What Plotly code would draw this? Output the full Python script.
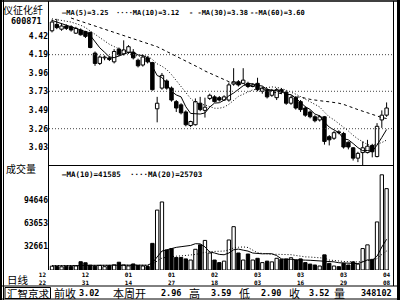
import plotly.graph_objects as go

# ---------------- data ----------------
OPEN = [4.49, 4.57, 4.51, 4.55, 4.54, 4.46, 4.50, 4.48, 4.47, 4.21,
        4.08, 4.15, 4.15, 4.10, 4.26, 4.20, 4.22, 4.22, 4.12, 4.06,
        4.15, 4.09, 3.51, 3.77, 3.86, 3.77, 3.60, 3.56, 3.47, 3.30,
        3.31, 3.58, 3.49, 3.64, 3.66, 3.65, 3.62, 3.62, 3.82, 3.85,
        3.83, 3.83, 3.79, 3.83, 3.73, 3.75, 3.68, 3.65, 3.75, 3.72,
        3.58, 3.65, 3.60, 3.52, 3.47, 3.41, 3.37, 3.41, 3.16, 3.14,
        3.22, 3.20, 3.09, 3.02, 2.89, 2.96, 2.96, 3.05, 2.91, 3.37, 3.43]
HIGH = [4.63, 4.64, 4.58, 4.57, 4.56, 4.54, 4.52, 4.49, 4.48, 4.23,
        4.18, 4.18, 4.17, 4.26, 4.28, 4.37, 4.31, 4.26, 4.14, 4.19,
        4.17, 4.10, 3.66, 3.96, 3.88, 3.79, 3.62, 3.58, 3.49, 3.36,
        3.64, 3.66, 3.65, 3.70, 3.68, 3.67, 3.68, 3.84, 4.02, 3.87,
        4.02, 3.85, 3.83, 3.90, 3.79, 3.77, 3.76, 3.77, 3.77, 3.74,
        3.67, 3.67, 3.62, 3.54, 3.49, 3.43, 3.43, 3.42, 3.18, 3.23,
        3.24, 3.22, 3.10, 3.03, 2.97, 3.10, 3.12, 3.07, 3.33, 3.49, 3.59]
LOW = [4.47, 4.51, 4.49, 4.50, 4.48, 4.45, 4.43, 4.40, 4.27, 4.05,
       4.06, 4.12, 4.11, 4.08, 4.17, 4.18, 4.20, 4.13, 4.03, 4.04,
       4.08, 3.74, 3.34, 3.75, 3.75, 3.60, 3.47, 3.44, 3.29, 3.28,
       3.30, 3.48, 3.40, 3.62, 3.59, 3.60, 3.61, 3.60, 3.80, 3.79,
       3.82, 3.77, 3.78, 3.73, 3.70, 3.64, 3.66, 3.62, 3.70, 3.56,
       3.56, 3.50, 3.47, 3.41, 3.39, 3.34, 3.35, 3.06, 3.05, 3.12,
       3.19, 3.01, 3.00, 2.86, 2.84, 2.80, 2.95, 2.90, 2.90, 3.27, 3.41]
CLOSE = [4.60, 4.53, 4.55, 4.52, 4.50, 4.52, 4.44, 4.42, 4.28, 4.08,
         4.16, 4.16, 4.13, 4.23, 4.19, 4.25, 4.29, 4.15, 4.05, 4.16,
         4.10, 3.75, 3.58, 3.93, 3.77, 3.62, 3.52, 3.46, 3.31, 3.35,
         3.60, 3.50, 3.53, 3.68, 3.60, 3.62, 3.66, 3.81, 3.85, 3.81,
         3.87, 3.79, 3.81, 3.75, 3.77, 3.66, 3.74, 3.75, 3.72, 3.58,
         3.65, 3.52, 3.50, 3.43, 3.41, 3.36, 3.41, 3.10, 3.12, 3.21,
         3.21, 3.03, 3.03, 2.89, 2.95, 3.02, 3.04, 2.97, 3.29, 3.43, 3.52]
VOLUME = [5200, 4800, 4300, 5000, 4600, 5600, 11200, 9800, 6500, 5300,
          6200, 4500, 5800, 7000, 10500, 6800, 5500, 8200, 6000, 5400,
          4700, 36000, 81000, 92000, 27000, 29000, 17000, 17000, 15000, 13500,
          28000, 34000, 40000, 23000, 13500, 10000, 12000, 40600, 58600, 23000,
          13500, 21600, 13500, 15800, 10000, 12000, 11000, 15800, 14400, 15000,
          16600, 13500, 15000, 10000, 8000, 6800, 5400, 20500, 9000, 5400,
          4500, 9000, 6800, 11000, 8000, 29000, 34000, 14400, 65000, 128700, 110000]

MA5 = [4.62, 4.60, 4.58, 4.56, 4.540, 4.524, 4.506, 4.480, 4.432, 4.348,
       4.276, 4.220, 4.162, 4.152, 4.174, 4.192, 4.218, 4.222, 4.186, 4.180,
       4.150, 4.042, 3.928, 3.904, 3.826, 3.730, 3.684, 3.660, 3.536, 3.452,
       3.448, 3.444, 3.458, 3.532, 3.582, 3.586, 3.618, 3.674, 3.708, 3.750,
       3.800, 3.826, 3.824, 3.804, 3.796, 3.754, 3.744, 3.734, 3.728, 3.690,
       3.688, 3.644, 3.594, 3.536, 3.502, 3.444, 3.422, 3.342, 3.280, 3.240,
       3.210, 3.134, 3.120, 3.074, 3.022, 2.984, 2.986, 2.974, 3.054, 3.150, 3.250]
MA10 = [4.64, 4.63, 4.62, 4.61, 4.60, 4.58, 4.56, 4.53, 4.49, 4.444,
        4.400, 4.363, 4.321, 4.292, 4.261, 4.234, 4.219, 4.192, 4.169, 4.177,
        4.171, 4.130, 4.075, 4.045, 4.003, 3.940, 3.863, 3.794, 3.720, 3.639,
        3.589, 3.564, 3.559, 3.534, 3.517, 3.517, 3.531, 3.566, 3.620, 3.666,
        3.693, 3.722, 3.749, 3.756, 3.773, 3.777, 3.785, 3.779, 3.766, 3.743,
        3.721, 3.694, 3.664, 3.632, 3.596, 3.566, 3.533, 3.468, 3.408, 3.371,
        3.327, 3.278, 3.231, 3.177, 3.131, 3.097, 3.060, 3.047, 3.064, 3.086, 3.117]
MA30 = [None, None, None, None, 4.65, 4.63, 4.61, 4.59, 4.57, 4.55,
        4.53, 4.51, 4.49, 4.47, 4.45, 4.43, 4.41, 4.39, 4.37, 4.35,
        4.33, 4.31, 4.29, 4.26, 4.23, 4.20, 4.17, 4.14, 4.11, 4.087,
        4.053, 4.019, 3.985, 3.957, 3.927, 3.897, 3.871, 3.851, 3.836, 3.827,
        3.818, 3.805, 3.794, 3.778, 3.764, 3.745, 3.726, 3.713, 3.702, 3.683,
        3.668, 3.660, 3.657, 3.641, 3.629, 3.620, 3.616, 3.604, 3.598, 3.593,
        3.580, 3.565, 3.548, 3.522, 3.500, 3.480, 3.459, 3.431, 3.413, 3.400, 3.388]
VMA10 = [5600, 5500, 5400, 5300, 5300, 5400, 5900, 6300, 6400, 6230,
         6330, 6300, 6450, 6650, 7240, 7360, 6790, 6630, 6580, 6590,
         6440, 9590, 17110, 25610, 27260, 29480, 30630, 31510, 32410, 33220,
         35550, 35350, 31250, 24350, 23000, 21100, 20600, 22960, 27320, 28270,
         26820, 25580, 22930, 22210, 21860, 22060, 21960, 19480, 15060, 14260,
         14570, 13760, 13910, 13330, 13130, 12610, 12050, 12520, 11980, 11020,
         9810, 9360, 8540, 8640, 8640, 10860, 13720, 13110, 18710, 31040, 41590]
VMA20 = [5900, 5850, 5800, 5750, 5700, 5700, 5800, 5900, 6000, 6000,
         6050, 6100, 6150, 6200, 6300, 6350, 6350, 6400, 6400, 6410,
         6385, 7945, 11780, 16130, 17250, 18420, 18710, 19070, 19495, 19905,
         20995, 22470, 24180, 24980, 25130, 25290, 25615, 27235, 29865, 30745,
         31185, 30465, 27090, 23280, 22430, 21580, 21280, 21220, 21190, 21265,
         20695, 19670, 18420, 17770, 17495, 17335, 17005, 16000, 13520, 12640,
         12190, 11560, 11225, 10985, 10885, 11735, 12885, 12815, 15345, 21030, 25700]

PRICE_TICKS = [4.42, 4.19, 3.96, 3.73, 3.49, 3.26, 3.03]
PRICE_GRID = [4.19, 3.73, 3.26]
VOL_TICKS = [32661, 63653, 94646]
DATE_TICK_IDX = [-2, 7, 16, 25, 34, 43, 52, 61, 70]
DATE_LABELS = ["12<br>22", "12<br>31", "01<br>14", "01<br>27", "02<br>18",
               "03<br>03", "03<br>16", "03<br>29", "04<br>08"]
PRICE_LEGEND = [("—MA(5)=3.25", 60), ("····MA(10)=3.12", 114),
                ("- -MA(30)=3.38", 187), ("--MA(60)=3.60", 248)]
VOL_LEGEND = [("—MA(10)=41585", 60), ("····MA(20)=25703", 128)]
STATUS_CJK = [("前收", 52), ("本周开", 111), ("高", 187), ("低", 237), ("收", 287), ("量", 332)]
STATUS_NUM = [("3.02", 101), ("2.96", 183), ("3.59", 233), ("2.90", 283), ("3.52", 331), ("348102", 394)]

# ---------------- layout helpers ----------------
W, H = 400, 300
def PX(x): return x / W
def PY(y): return 1 - y / H

MONO = "DejaVu Sans Mono"
CJK = "Noto Sans CJK SC"
X0_PX, STEP_PX = 52, 4.78
XL_PX, XR_PX = 35, 393
x_range = [(XL_PX - X0_PX) / STEP_PX, (XR_PX - X0_PX) / STEP_PX]

idx = list(range(len(CLOSE)))
fills = ["white" if c >= o else "black" for o, c in zip(OPEN, CLOSE)]
body_lo = [min(o, c) for o, c in zip(OPEN, CLOSE)]
body_hi = [max(o, c) for o, c in zip(OPEN, CLOSE)]
body_h = [h - l for h, l in zip(body_hi, body_lo)]

wx, wy = [], []
for i in idx:
    wx += [i, i, None, i, i, None]
    wy += [HIGH[i], body_hi[i], None, body_lo[i], LOW[i], None]

fig = go.Figure()
fig.add_trace(go.Scatter(x=wx, y=wy, mode="lines", line=dict(color="black", width=1),
                         xaxis="x", yaxis="y", hoverinfo="skip"))
fig.add_trace(go.Bar(x=idx, y=body_h, base=body_lo, width=0.72,
                     marker=dict(color=fills, line=dict(color="black", width=1)),
                     xaxis="x", yaxis="y"))
fig.add_trace(go.Scatter(x=idx, y=MA5, mode="lines", line=dict(color="black", width=1),
                         xaxis="x", yaxis="y"))
fig.add_trace(go.Scatter(x=idx, y=MA10, mode="lines", line=dict(color="black", width=1, dash="1px,2px"),
                         xaxis="x", yaxis="y"))
fig.add_trace(go.Scatter(x=idx, y=MA30, mode="lines", line=dict(color="black", width=1, dash="3px,3px"),
                         xaxis="x", yaxis="y"))
fig.add_trace(go.Bar(x=idx, y=VOLUME, width=0.7,
                     marker=dict(color=fills, line=dict(color="black", width=1)),
                     xaxis="x2", yaxis="y2"))
fig.add_trace(go.Scatter(x=idx, y=VMA10, mode="lines", line=dict(color="black", width=1),
                         xaxis="x2", yaxis="y2"))
fig.add_trace(go.Scatter(x=idx, y=VMA20, mode="lines", line=dict(color="black", width=1, dash="1px,2px"),
                         xaxis="x2", yaxis="y2"))

price_top_px, price_bot_px, vol_bot_px = 2, 165, 270
p_at_px = lambda y: 3.26 + (128.7 - y) / 79.6
vol_per_px = 94646 / (270 - 200)

fig.update_layout(
    width=W, height=H, margin=dict(l=0, r=0, t=0, b=0), autosize=False,
    paper_bgcolor="white", plot_bgcolor="white", showlegend=False,
    xaxis=dict(domain=[PX(XL_PX), PX(XR_PX)], range=x_range, anchor="y",
               showticklabels=False, showgrid=False, zeroline=False, showline=False, ticks=""),
    xaxis2=dict(domain=[PX(XL_PX), PX(XR_PX)], range=x_range, anchor="y2",
                tickmode="array", tickvals=DATE_TICK_IDX, ticktext=DATE_LABELS,
                tickfont=dict(family=MONO, size=6, color="black", weight="bold"),
                showgrid=False, zeroline=False, showline=False, ticks="", ticklen=0),
    yaxis=dict(domain=[PY(price_bot_px), PY(price_top_px)],
               range=[p_at_px(price_bot_px), p_at_px(price_top_px)],
               anchor="free", position=PX(48), side="left",
               tickmode="array", tickvals=PRICE_TICKS, ticktext=[f"{v:.2f}" for v in PRICE_TICKS],
               tickfont=dict(family=MONO, size=8, color="black", weight="bold"),
               showgrid=False, zeroline=False, showline=False, ticks=""),
    yaxis2=dict(domain=[PY(vol_bot_px), PY(price_bot_px)],
                range=[0, (vol_bot_px - price_bot_px) * vol_per_px],
                anchor="free", position=PX(48), side="left",
                tickmode="array", tickvals=VOL_TICKS, ticktext=[str(v) for v in VOL_TICKS],
                tickfont=dict(family=MONO, size=8, color="black", weight="bold"),
                showgrid=False, zeroline=False, showline=False, ticks=""),
)

shapes = []
def line(x0, y0, x1, y1, w=1, dash=None, color="black"):
    d = dict(type="line", xref="paper", yref="paper", x0=PX(x0), x1=PX(x1), y0=PY(y0), y1=PY(y1),
             line=dict(color=color, width=w))
    if dash:
        d["line"]["dash"] = dash
    shapes.append(d)

for g in PRICE_GRID:
    shapes.append(dict(type="line", xref="paper", yref="y", x0=PX(49), x1=PX(392), y0=g, y1=g,
                       line=dict(color="#444", width=1, dash="1px,2px")))
shapes.append(dict(type="rect", xref="paper", yref="paper", x0=0, x1=PX(2), y0=0, y1=1,
                   fillcolor="black", line=dict(width=0)))
line(3.5, 0, 3.5, 300)
line(0, 1, 400, 1, w=1.5)
line(393.5, 1, 393.5, 286)
shapes.append(dict(type="rect", xref="paper", yref="paper", x0=PX(397), x1=1, y0=0, y1=1,
                   fillcolor="black", line=dict(width=0)))
line(48.5, 1, 48.5, 270)
line(48, 165.5, 393.5, 165.5)
line(0, 286, 400, 286)
line(0, 299, 400, 299)
shapes.append(dict(type="rect", xref="paper", yref="paper", x0=PX(5), x1=PX(50.5),
                   y0=PY(298.5), y1=PY(287.5), line=dict(color="black", width=1)))
fig.update_layout(shapes=shapes)

ann = []
def text(t, x, y, size, family, xanchor="left", bold=False):
    ann.append(dict(text=(f"<b>{t}</b>" if bold else t), x=PX(x), y=PY(y), xref="paper", yref="paper",
                    xanchor=xanchor, yanchor="middle", showarrow=False,
                    font=dict(family=family, size=size, color="black")))

text("仪征化纤", 23, 9, 10, CJK, "center")
text("600871", 26, 21, 8.5, MONO, "center", True)
text("成交量", 21, 168, 10, CJK, "center")
text("日线", 17.5, 279, 10.5, CJK, "center")
for t, x in PRICE_LEGEND:
    text(t, x, 13, 7, MONO, "left", True)
for t, x in VOL_LEGEND:
    text(t, x, 174, 7.5, MONO, "left", True)
text("汇智京求", 28, 293, 10.5, CJK, "center")
for t, x in STATUS_CJK:
    text(t, x, 293, 11, CJK, "left")
for t, x in STATUS_NUM:
    text(t, x, 293, 8.5, MONO, "right", True)
fig.update_layout(annotations=ann)

fig.write_html("out.html")
